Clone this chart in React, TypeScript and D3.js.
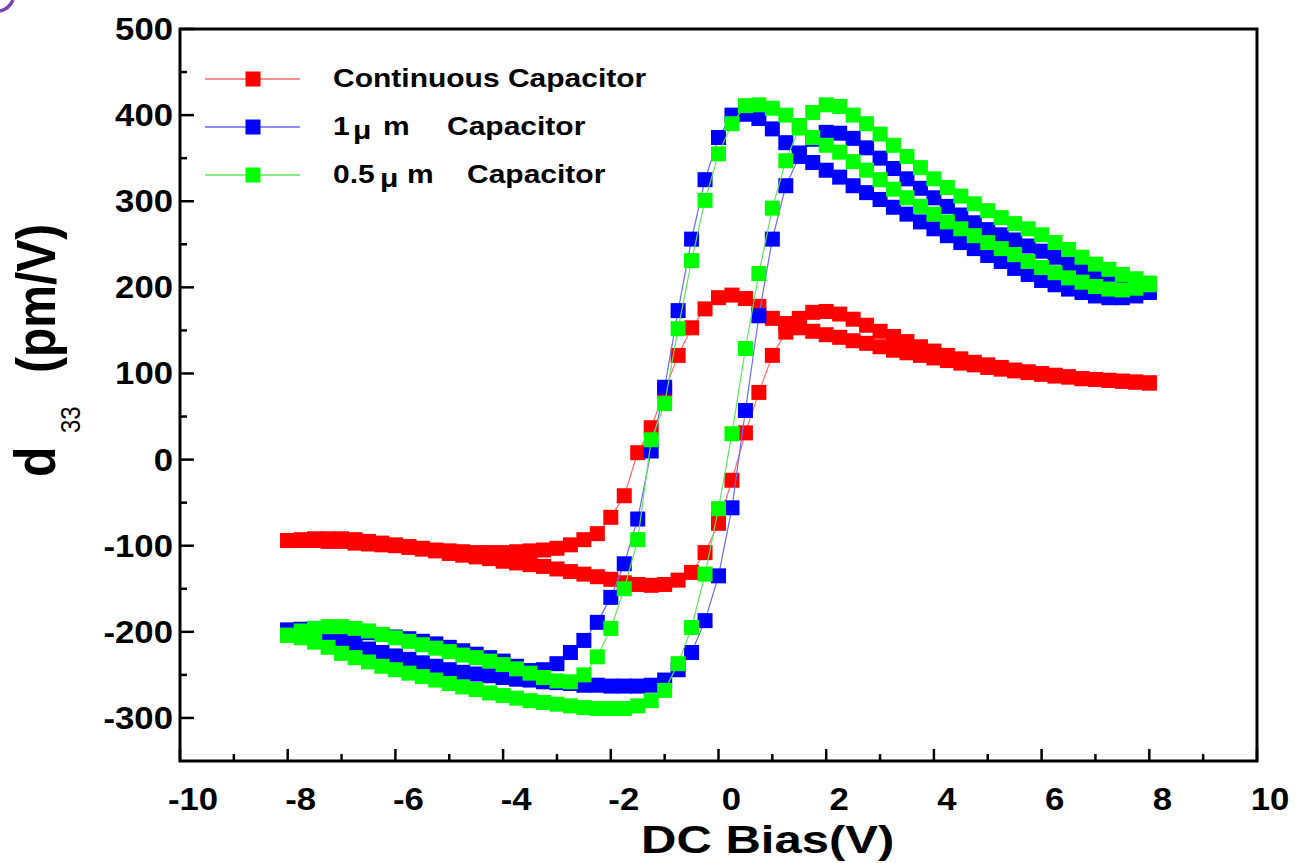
import React from 'react';
import * as d3 from 'd3';

// DC bias sweep (V), shared by every measurement branch
const biasSweep = [
  -8, -7.75, -7.5, -7.25, -7, -6.75, -6.5, -6.25,
  -6, -5.75, -5.5, -5.25, -5, -4.75, -4.5, -4.25,
  -4, -3.75, -3.5, -3.25, -3, -2.75, -2.5, -2.25,
  -2, -1.75, -1.5, -1.25, -1, -0.75, -0.5, -0.25,
  0, 0.25, 0.5, 0.75, 1, 1.25, 1.5, 1.75,
  2, 2.25, 2.5, 2.75, 3, 3.25, 3.5, 3.75,
  4, 4.25, 4.5, 4.75, 5, 5.25, 5.5, 5.75,
  6, 6.25, 6.5, 6.75, 7, 7.25, 7.5, 7.75,
  8,
];

// d33 (pm/V), continuous capacitor: rising sweep and falling sweep
const continuousUp = [
  -94, -94, -94, -95, -95, -97, -98, -99,
  -100, -102, -104, -106, -109, -111, -113, -115,
  -118, -120, -122, -124, -127, -130, -133, -136,
  -139, -143, -145, -146, -145, -140, -131, -108,
  -74, -24, 31, 78, 121, 148, 164, 171,
  172, 169, 163, 156, 149, 143, 137, 131,
  126, 121, 117, 113, 110, 107, 104, 102,
  100, 98, 96, 94, 93, 92, 91, 90,
  89,
];
const continuousDown = [
  -94, -93, -92, -92, -92, -93, -95, -97,
  -99, -101, -103, -105, -106, -107, -108, -108,
  -108, -107, -106, -105, -103, -99, -93, -86,
  -67, -42, 8, 37, 80, 121, 153, 175,
  188, 191, 187, 178, 164, 158, 153, 149,
  145, 142, 138, 135, 131, 127, 124, 121,
  118, 115, 112, 110, 107, 105, 103, 101,
  99, 97, 96, 94, 93, 92, 91, 90,
  89,
];

// d33 (pm/V), 1 µm capacitor
const oneMicronUp = [
  -198, -199, -202, -205, -210, -215, -220, -224,
  -228, -232, -236, -240, -244, -247, -249, -251,
  -253, -255, -256, -258, -259, -260, -262, -262,
  -263, -263, -263, -262, -256, -244, -224, -187,
  -135, -56, 57, 167, 256, 318, 352, 372,
  380, 379, 373, 362, 350, 338, 326, 315,
  304, 294, 284, 275, 267, 261, 255, 248,
  242, 235, 227, 219, 211, 206, 202, 199,
  196,
];
const oneMicronDown = [
  -198, -197, -196, -197, -198, -199, -201, -203,
  -206, -208, -211, -214, -218, -222, -226, -230,
  -234, -240, -245, -244, -237, -224, -210, -189,
  -160, -121, -69, 10, 84, 173, 256, 325,
  374, 400, 401, 396, 384, 368, 356, 345,
  336, 328, 318, 310, 302, 293, 285, 276,
  268, 260, 252, 245, 237, 230, 222, 215,
  208, 203, 198, 194, 190, 188, 188, 190,
  194,
];

// d33 (pm/V), 0.5 µm capacitor
const halfMicronUp = [
  -204, -207, -212, -218, -225, -230, -235, -240,
  -244, -248, -252, -256, -260, -264, -267, -271,
  -274, -277, -280, -282, -284, -286, -288, -289,
  -289, -289, -286, -280, -268, -237, -195, -133,
  -57, 30, 129, 216, 292, 347, 385, 403,
  412, 410, 400, 390, 378, 365, 352, 339,
  326, 316, 306, 297, 289, 281, 274, 268,
  261, 252, 244, 235, 227, 221, 215, 210,
  205,
];
const halfMicronDown = [
  -204, -199, -196, -194, -194, -196, -199, -203,
  -207, -211, -215, -219, -223, -227, -230, -234,
  -238, -243, -248, -253, -257, -258, -250, -229,
  -196, -150, -93, 23, 65, 152, 231, 301,
  355, 390, 411, 412, 408, 400, 388, 374,
  365, 357, 346, 336, 325, 314, 304, 294,
  285, 276, 268, 260, 252, 245, 238, 230,
  223, 217, 211, 206, 201, 198, 197, 199,
  203,
];

const xTickValues = [-10, -8, -6, -4, -2, 0, 2, 4, 6, 8, 10];
const yTickValues = [500, 400, 300, 200, 100, 0, -100, -200, -300];

const FONT = '"Liberation Sans", Arial, Helvetica, sans-serif';
const W = 1297;
const H = 863;
const left = 180;
const right = 1257;
const top = 29;
const bottom = 761;

const x = d3.scaleLinear().domain([-10, 10]).range([left, right]);
const y = d3.scaleLinear().domain([-350, 500]).range([bottom, top]);

const series = [
  { key: 'cont', color: '#ff0000', line: '#ff6a6a', up: continuousUp, down: continuousDown },
  { key: 'one', color: '#0000ff', line: '#6a6aff', up: oneMicronUp, down: oneMicronDown },
  { key: 'half', color: '#00ff00', line: '#5ee65e', up: halfMicronUp, down: halfMicronDown },
];

const MARK = 15;

function loopPoints(up: number[], down: number[]): [number, number][] {
  const rising = biasSweep.map((v, i) => [v, up[i]] as [number, number]);
  const falling = biasSweep.map((v, i) => [v, down[i]] as [number, number]).reverse();
  return rising.concat(falling);
}

const lineGen = d3
  .line<[number, number]>()
  .x((d) => x(d[0]))
  .y((d) => y(d[1]));

function Txt(props: {
  x: number;
  y: number;
  sx?: number;
  size: number;
  anchor?: string;
  weight?: string;
  rotate?: number;
  children: React.ReactNode;
}) {
  const { sx = 1, anchor = 'start', weight = 'bold', rotate = 0 } = props;
  return (
    <text
      transform={`translate(${props.x},${props.y}) scale(${sx},1)${rotate ? ` rotate(${rotate})` : ''}`}
      fontFamily={FONT}
      fontSize={props.size}
      fontWeight={weight}
      textAnchor={anchor}
      fill="#000"
    >
      {props.children}
    </text>
  );
}

export default function App() {
  const xMinor = x.ticks(20).filter((t) => !xTickValues.includes(t));
  const yMinor = y.ticks(17).filter((t) => !yTickValues.includes(t) && t > -350 && t < 500);

  return (
    <svg
      width={W}
      height={H}
      viewBox={`0 0 ${W} ${H}`}
      style={{ position: 'absolute', left: 0, top: 0, display: 'block', background: '#fff' }}
    >
      <rect x={0} y={0} width={W} height={H} fill="#fff" />
      {/* stray corner mark */}
      <path d="M0,11 Q9,9 13,0" fill="none" stroke="#7b3fb8" strokeWidth={3.5} />

      {/* data loops */}
      {series.map((s) => {
        const pts = loopPoints(s.up, s.down);
        return (
          <g key={s.key}>
            <path d={lineGen(pts) || ''} fill="none" stroke={s.line} strokeWidth={1.2} />
            {pts.map((p, i) => (
              <rect
                key={i}
                x={x(p[0]) - MARK / 2}
                y={y(p[1]) - MARK / 2}
                width={MARK}
                height={MARK}
                fill={s.color}
              />
            ))}
          </g>
        );
      })}

      {/* frame */}
      <rect x={left} y={top} width={right - left} height={bottom - top} fill="none" stroke="#000" strokeWidth={3} />

      {/* x ticks */}
      {xTickValues.map((t) => (
        <line key={`xt${t}`} x1={x(t)} x2={x(t)} y1={bottom} y2={bottom - 12} stroke="#000" strokeWidth={2.5} />
      ))}
      {xMinor.map((t) => (
        <line key={`xm${t}`} x1={x(t)} x2={x(t)} y1={bottom} y2={bottom - 7} stroke="#000" strokeWidth={2.5} />
      ))}
      {xTickValues.map((t) => (
        <Txt key={`xl${t}`} x={x(t) + 13} y={810} size={31} sx={1.12} anchor="middle">
          {t}
        </Txt>
      ))}

      {/* y ticks */}
      {yTickValues.map((t) => (
        <line key={`yt${t}`} x1={left} x2={left + 14} y1={y(t)} y2={y(t)} stroke="#000" strokeWidth={2.5} />
      ))}
      {yMinor.map((t) => (
        <line key={`ym${t}`} x1={left} x2={left + 7} y1={y(t)} y2={y(t)} stroke="#000" strokeWidth={2.5} />
      ))}
      {yTickValues.map((t) => (
        <Txt key={`yl${t}`} x={173} y={y(t) + 11} size={31} sx={1.12} anchor="end">
          {t}
        </Txt>
      ))}

      {/* axis titles */}
      <Txt x={641} y={853} size={38} sx={1.29}>
        DC Bias(V)
      </Txt>
      <Txt x={55} y={477} size={50} sx={1.15} rotate={-90}>
        d
      </Txt>
      <Txt x={80} y={433} size={24} sx={1.15} rotate={-90} weight="normal">
        33
      </Txt>
      <Txt x={55} y={373} size={48} sx={1.15} rotate={-90}>
        (pm/V)
      </Txt>

      {/* legend */}
      {series.map((s, i) => {
        const ly = 79 + i * 48;
        return (
          <g key={`lg${s.key}`}>
            <line x1={205} x2={300} y1={ly} y2={ly} stroke={s.line} strokeWidth={1.5} />
            <rect x={253 - 7.5} y={ly - 7.5} width={15} height={15} fill={s.color} />
          </g>
        );
      })}
      <Txt x={333} y={87} size={25} sx={1.2}>
        Continuous Capacitor
      </Txt>
      <Txt x={333} y={135} size={25} sx={1.2}>
        1
      </Txt>
      <Txt x={353} y={139} size={25} sx={1.2}>
        μ
      </Txt>
      <Txt x={383} y={135} size={25} sx={1.2}>
        m
      </Txt>
      <Txt x={447} y={135} size={25} sx={1.2}>
        Capacitor
      </Txt>
      <Txt x={333} y={183} size={25} sx={1.2}>
        0.5
      </Txt>
      <Txt x={380} y={187} size={25} sx={1.2}>
        μ
      </Txt>
      <Txt x={407} y={183} size={25} sx={1.2}>
        m
      </Txt>
      <Txt x={467} y={183} size={25} sx={1.2}>
        Capacitor
      </Txt>
    </svg>
  );
}
